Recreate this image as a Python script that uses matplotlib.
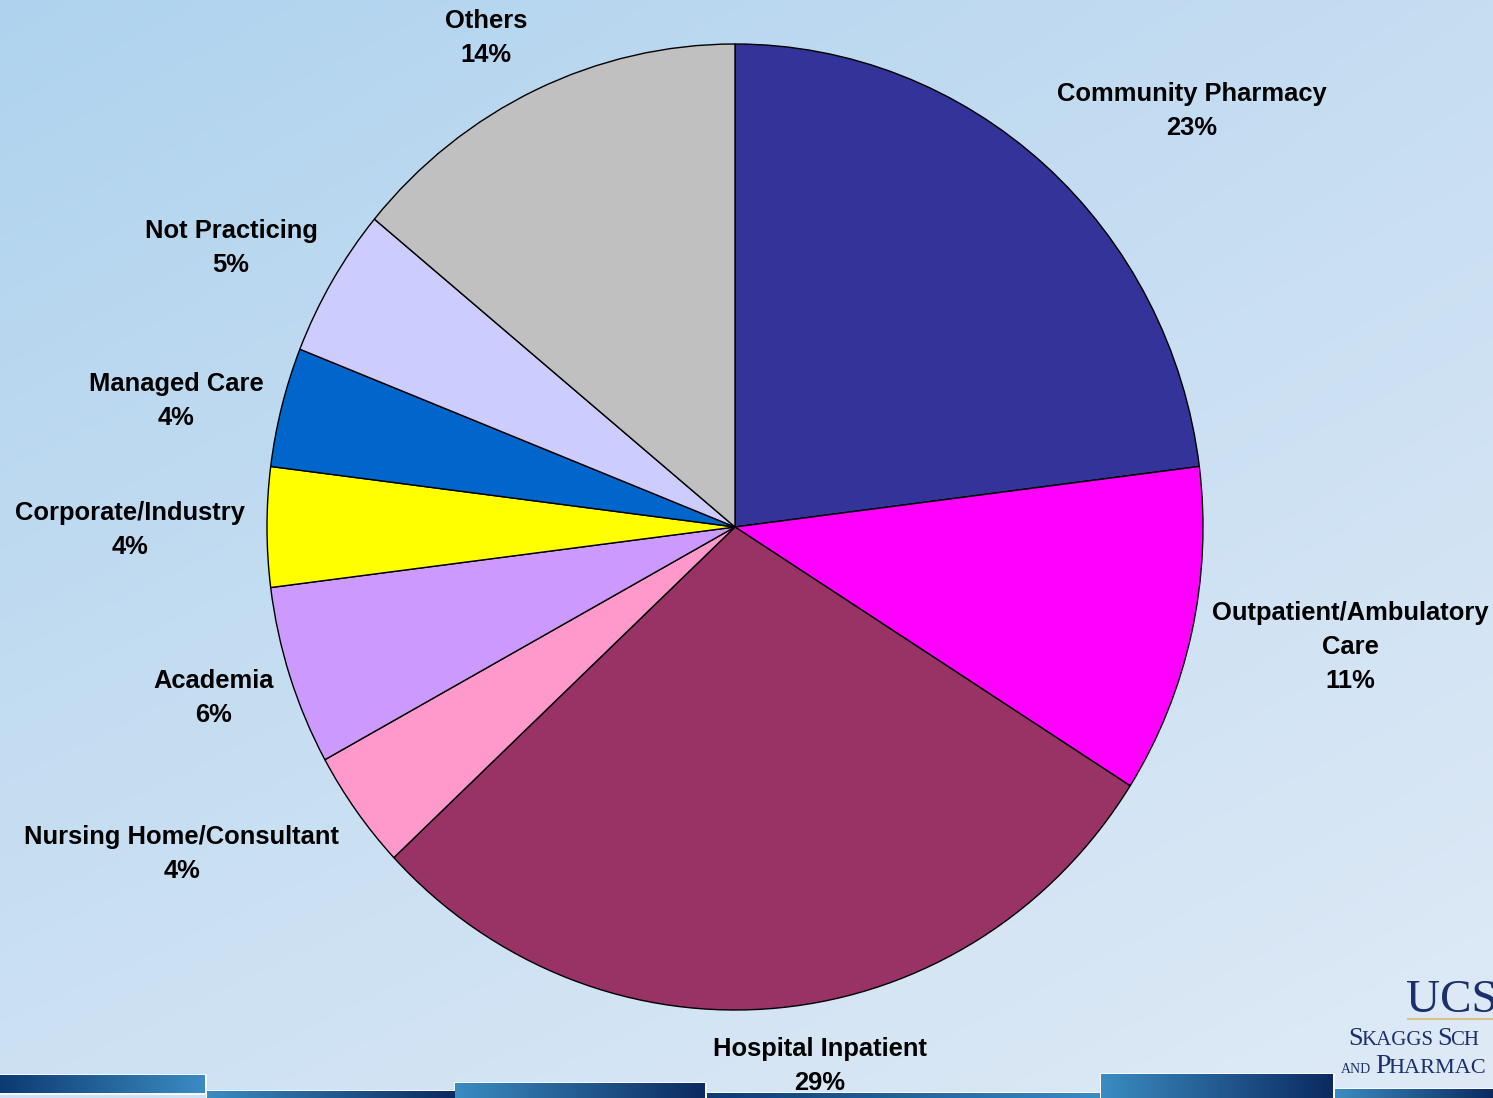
import numpy as np
import matplotlib
matplotlib.use("Agg")
import matplotlib.pyplot as plt
from matplotlib.colors import to_rgb, LinearSegmentedColormap

# ---- data ----
categories = ["Community Pharmacy", "Outpatient/Ambulatory\nCare", "Hospital Inpatient",
              "Nursing Home/Consultant", "Academia", "Corporate/Industry",
              "Managed Care", "Not Practicing", "Others"]
shares = [23, 11, 29, 4, 6, 4, 4, 5, 14]
colors = ["#333399", "#FF00FF", "#993366", "#FF99CC", "#CC99FF",
          "#FFFF00", "#0066CC", "#CCCCFF", "#C0C0C0"]

# label centres in pixels (layout only)
label_pos = [(1192, 111), (1350, 647), (820, 1066), (182, 854), (214, 698),
             (130, 530), (176, 401), (231, 248), (486, 38)]

W, H = 1493, 1098
fig = plt.figure(figsize=(W / 100, H / 100), dpi=100)

# ---- background gradient ----
bg = fig.add_axes([0, 0, 1, 1])
bg.set_axis_off()
tl, tr = np.array(to_rgb("#afd3ee")), np.array(to_rgb("#c6ddf2"))
bl, br = np.array(to_rgb("#cde1f3")), np.array(to_rgb("#dfeaf6"))
yy, xx = np.mgrid[0:1:200j, 0:1:300j]
img = ((1 - yy)[..., None] * ((1 - xx)[..., None] * tl + xx[..., None] * tr)
       + yy[..., None] * ((1 - xx)[..., None] * bl + xx[..., None] * br))
bg.imshow(img, extent=[0, W, H, 0], aspect="auto", zorder=0)

# decorative bottom bars
bar_cmap_lr = LinearSegmentedColormap.from_list("lr", ["#0d3a72", "#3a8cc2"])
bar_cmap_rl = LinearSegmentedColormap.from_list("rl", ["#3a8cc2", "#0b2a60"])
grad = np.linspace(0, 1, 256)[None, :]
bars = [(0, 205, 1075, 1093, bar_cmap_lr), (207, 455, 1091, 1098, bar_cmap_rl),
        (455, 705, 1083, 1098, bar_cmap_rl), (707, 1100, 1093, 1098, bar_cmap_lr),
        (1101, 1333, 1074, 1098, bar_cmap_rl), (1335, 1493, 1089, 1098, bar_cmap_rl)]
for x0, x1, y0, y1, cm in bars:
    bg.add_patch(plt.Rectangle((x0 - 1.5, y0 - 1.5), x1 - x0 + 3, y1 - y0 + 3,
                               facecolor="white", edgecolor="none", alpha=0.8,
                               zorder=0.5))
    bg.imshow(grad, extent=[x0, x1, y1, y0], aspect="auto", cmap=cm, zorder=1)
bg.set_xlim(0, W)
bg.set_ylim(H, 0)

# logo text (cropped by the right edge, as in the source slide)
logo_kw = dict(family="Liberation Serif", color="#1a2f6b", ha="left",
               va="baseline")
bg.text(1406, 1012, "UCS", fontsize=34, **logo_kw)
bg.plot([1408, 1493], [1019, 1019], color="#d8c48a", lw=1.5, zorder=2)
bg.text(1348, 1045, "S", fontsize=19, **logo_kw)
bg.text(1361, 1045, "KAGGS", fontsize=15, **logo_kw)
bg.text(1437, 1045, "S", fontsize=19, **logo_kw)
bg.text(1450, 1045, "CH", fontsize=15, **logo_kw)
bg.text(1341, 1073, "AND", fontsize=10, **logo_kw)
bg.text(1375, 1073, "P", fontsize=20, **logo_kw)
bg.text(1388, 1073, "HARMAC", fontsize=16, **logo_kw)

# ---- pie ----
cx, cy, rx, ry = 735, 527, 468, 483
ax = fig.add_axes([(cx - rx) / W, (H - cy - ry) / H, 2 * rx / W, 2 * ry / H])
ax.pie(shares, colors=colors, startangle=90, counterclock=False, radius=1,
       wedgeprops=dict(edgecolor="black", linewidth=1.0))
ax.set_aspect("auto")
ax.set_xlim(-1, 1)
ax.set_ylim(-1, 1)
ax.set_axis_off()

# ---- labels ----
for name, val, (px, py) in zip(categories, shares, label_pos):
    bg.text(px, py, f"{name}\n{val}%", ha="center", va="center", fontsize=18.4,
            fontweight="bold", family="Liberation Sans", linespacing=1.52,
            color="black", zorder=3)

fig.savefig("out.png", dpi=100)
